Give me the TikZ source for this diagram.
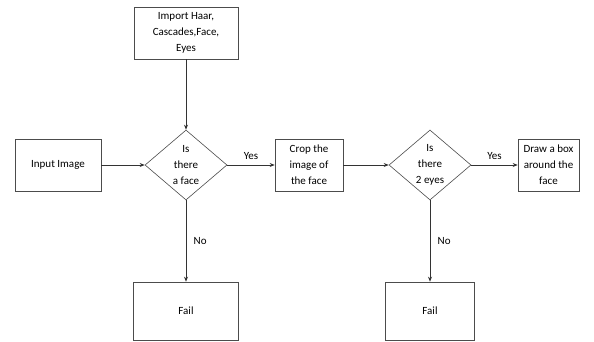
\documentclass[tikz,border=0pt]{standalone}
\usepackage{fontspec}
\setmainfont{Carlito}
\usetikzlibrary{shapes.geometric,arrows.meta}
\begin{document}
\begin{tikzpicture}[x=1pt,y=-1pt,
  box/.style={draw=black!70,line width=0.6pt,fill=white,align=center,inner sep=0pt,
    font=\fontsize{11}{16}\selectfont},
  dia/.style={draw=black!70,line width=0.6pt,diamond,inner sep=0pt,align=center,
    font=\fontsize{11}{16}\selectfont},
  arr/.style={draw=black!80,line width=0.7pt,-{Stealth[length=5pt,width=4pt]}},
  lbl/.style={font=\fontsize{11}{13}\selectfont}]
\useasboundingbox (0,0) rectangle (594,342);
\fill[white] (0,0) rectangle (594,342);
\node[box,minimum width=104pt,minimum height=52pt] (imp) at (186,33) {Import Haar,\\Cascades,Face,\\Eyes};
\node[box,minimum width=86pt,minimum height=52pt] (inp) at (58,165) {Input Image};
\node[dia,minimum width=82pt,minimum height=70pt] (d1) at (186,165) {Is\\there\\a face};
\node[box,minimum width=68pt,minimum height=52pt] (crop) at (309,165) {Crop the\\image of\\the face};
\node[dia,minimum width=82pt,minimum height=70pt] (d2) at (430,165) {Is\\there\\2 eyes};
\node[box,minimum width=61pt,minimum height=52pt] (drw) at (548.5,165) {Draw a box\\around the\\face};
\node[box,minimum width=105pt,minimum height=58pt] (f1) at (186,311) {Fail};
\node[box,minimum width=89pt,minimum height=58pt] (f2) at (430,311) {Fail};
\draw[arr] (imp) -- (d1);
\draw[arr] (inp) -- (d1);
\draw[arr] (d1) -- node[lbl,above=2pt] {Yes} (crop);
\draw[arr] (crop) -- (d2);
\draw[arr] (d2) -- node[lbl,above=2pt] {Yes} (drw);
\draw[arr] (d1) -- node[lbl,right=4pt] {No} (f1);
\draw[arr] (d2) -- node[lbl,right=4pt] {No} (f2);
\end{tikzpicture}
\end{document}
